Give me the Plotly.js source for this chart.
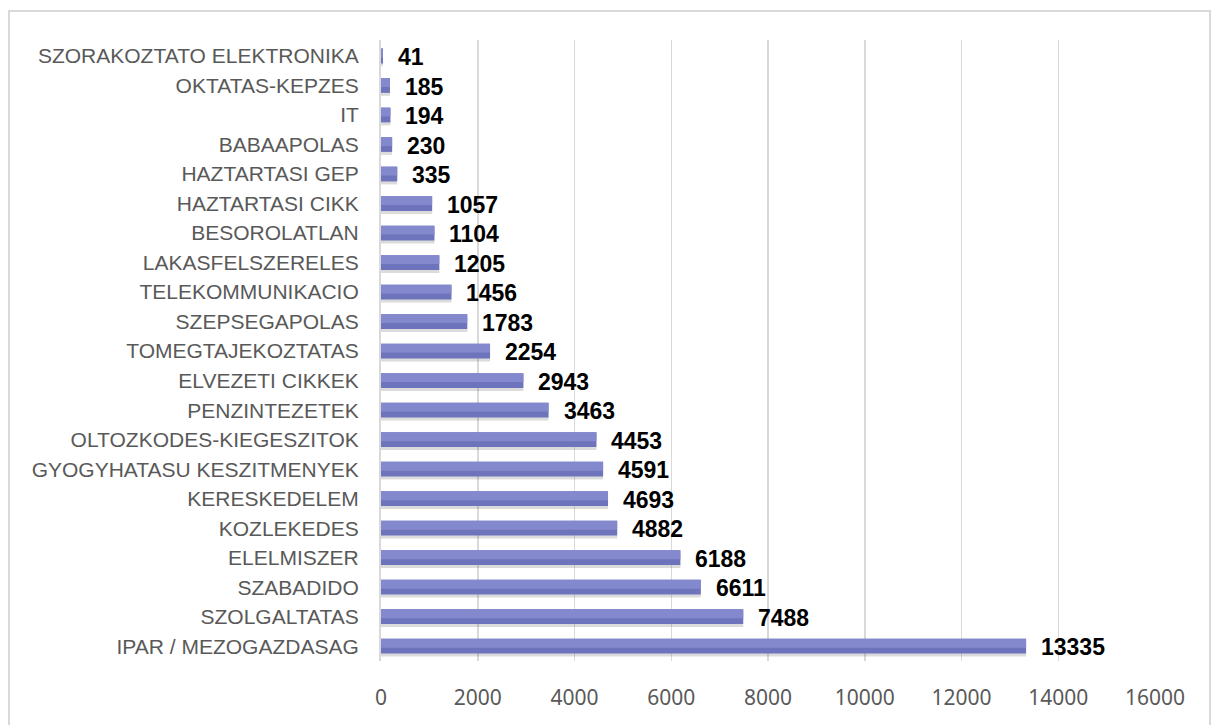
<!DOCTYPE html>
<html>
<head>
<meta charset="utf-8">
<script src="https://cdn.plot.ly/plotly-3.0.1.min.js"></script>
<style>
  html, body { margin: 0; padding: 0; background: #fff; }
  #wrap { position: relative; width: 1214px; height: 725px; }
  #chart { width: 1214px; height: 725px; }
  #frame { position: absolute; left: 8px; top: 10px; width: 1203px; height: 720px;
           border: 2px solid #d9d9d9; box-sizing: border-box; pointer-events: none; }
</style>
</head>
<body>
<div id="wrap">
  <div id="chart"></div>
  <div id="frame"></div>
</div>
<script>
const categories = [
  "SZORAKOZTATO ELEKTRONIKA", "OKTATAS-KEPZES", "IT", "BABAAPOLAS", "HAZTARTASI GEP",
  "HAZTARTASI CIKK", "BESOROLATLAN", "LAKASFELSZERELES", "TELEKOMMUNIKACIO", "SZEPSEGAPOLAS",
  "TOMEGTAJEKOZTATAS", "ELVEZETI CIKKEK", "PENZINTEZETEK", "OLTOZKODES-KIEGESZITOK",
  "GYOGYHATASU KESZITMENYEK", "KERESKEDELEM", "KOZLEKEDES", "ELELMISZER", "SZABADIDO",
  "SZOLGALTATAS", "IPAR / MEZOGAZDASAG"
];
const values = [41, 185, 194, 230, 335, 1057, 1104, 1205, 1456, 1783, 2254, 2943, 3463, 4453,
  4591, 4693, 4882, 6188, 6611, 7488, 13335];
const xTicks = [0, 2000, 4000, 6000, 8000, 10000, 12000, 14000, 16000];

const shadow = {
  type: 'bar', orientation: 'h', x: values, y: categories,
  width: 0.5, offset: -0.15,
  marker: { color: 'rgba(90,90,90,0.22)', line: { width: 0 } },
  hoverinfo: 'skip', showlegend: false
};
const main = {
  type: 'bar', orientation: 'h', x: values, y: categories,
  width: 0.5, offset: -0.25,
  marker: { color: '#6d74bc', line: { width: 0 } },
  showlegend: false
};
const hi = {
  type: 'bar', orientation: 'h', x: values, y: categories,
  width: 0.3, offset: -0.25,
  marker: { color: '#8389cc', line: { width: 0 } },
  hoverinfo: 'skip', showlegend: false
};

const annotations = values.map((v, i) => ({
  x: v, y: categories[i], xref: 'x', yref: 'y',
  text: String(v), showarrow: false, xanchor: 'left', xshift: 13, yshift: -1,
  font: { family: 'Liberation Sans, Arial, sans-serif', size: 23, color: '#000000', weight: 'bold' }
}));

const layout = {
  width: 1214, height: 725,
  margin: { l: 381, r: 59, t: 40, b: 64 },
  paper_bgcolor: '#ffffff', plot_bgcolor: '#ffffff',
  barmode: 'overlay',
  showlegend: false,
  xaxis: {
    range: [0, 16000], tickvals: xTicks, ticktext: xTicks.map(String),
    showgrid: true, gridcolor: '#d9d9d9', gridwidth: 1.5,
    zeroline: false, showline: false, ticks: '',
    tickfont: { family: 'Noto Sans, sans-serif', size: 21, color: '#595959' },
    ticklabelstandoff: 22, fixedrange: true
  },
  yaxis: {
    type: 'category', categoryorder: 'array', categoryarray: categories,
    autorange: 'reversed', showgrid: false, zeroline: false,
    showline: true, linecolor: '#d9d9d9', linewidth: 2, ticks: '',
    tickfont: { family: 'Liberation Sans, Arial, sans-serif', size: 21, color: '#595959' },
    ticklabelstandoff: 16, fixedrange: true
  },
  annotations: annotations
};

Plotly.newPlot('chart', [shadow, main, hi], layout, { displayModeBar: false, staticPlot: true });
</script>
</body>
</html>
